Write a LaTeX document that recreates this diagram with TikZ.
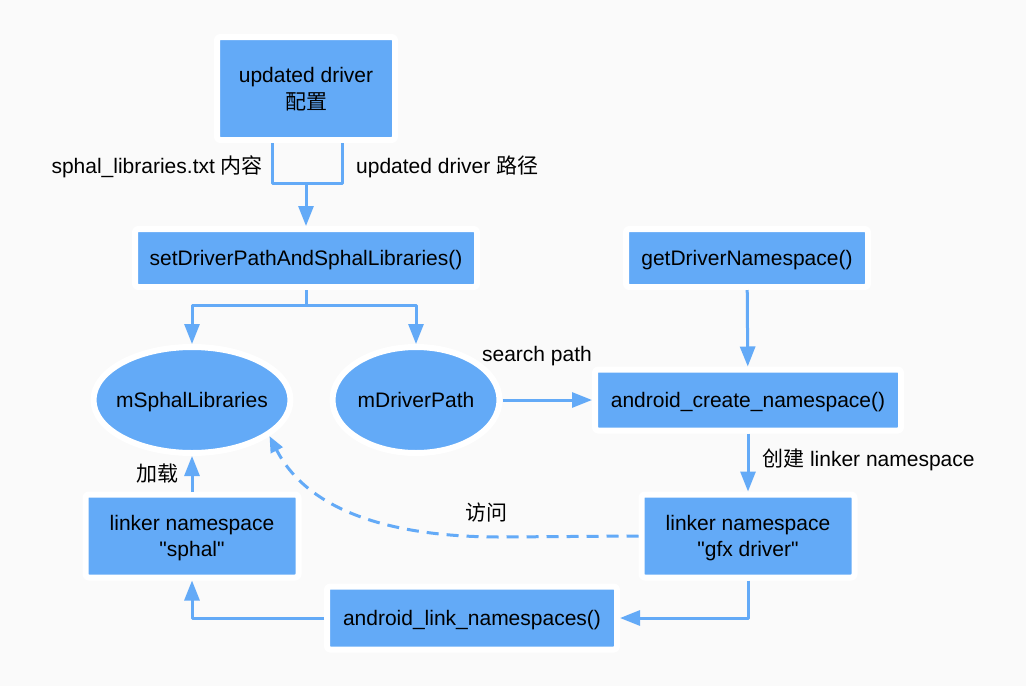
\documentclass[tikz,border=0pt]{standalone}
\usepackage{fontspec}
\setmainfont{Liberation Sans}
\newfontfamily\cjk{Noto Sans CJK SC}
\newfontfamily\qfont{Liberation Sans}
\usetikzlibrary{arrows.meta,positioning,shapes.geometric}
\definecolor{boxblue}{HTML}{63AAF7}
\definecolor{pagebg}{HTML}{FAFAFA}
\newcommand{\mainsize}{\fontsize{21}{26.5}\selectfont}
\newcommand{\zh}[1]{{\cjk #1}}
\newcommand{\qt}{{\qfont"}}
\tikzset{
    every picture/.style={line join=round},
    fnbox/.style={draw=white,fill=boxblue,line width=6pt,rounded corners=3pt,
      inner sep=2pt,text depth=0pt,align=center,font=\mainsize},
    varnode/.style={ellipse,draw=white,fill=boxblue,line width=6pt,
      inner sep=0pt,text depth=0pt,font=\mainsize},
    flowline/.style={draw=boxblue,line width=3pt},
    flowarrow/.style={flowline,-{Triangle[length=20pt,width=15pt]}},
    accessarrow/.style={flowline,dash pattern=on 12pt off 8pt,
      -{Triangle[length=16pt,width=13pt]}},
    edgelabel/.style={font=\mainsize,inner sep=0pt}
}

\begin{document}
\begin{tikzpicture}[x=1pt,y=-1pt]
    \fill[pagebg] (0,0) rectangle (1026,686);
    \useasboundingbox (0,0) rectangle (1026,686);
    % nodes
    \node[fnbox,minimum width=178pt,minimum height=103pt] (cfg) at (306,88.5)
      {updated driver\\\zh{配置}};
    \node[fnbox,minimum width=342pt,minimum height=58pt] (setp) at (306,258)
      {setDriverPathAndSphalLibraries()};
    \node[fnbox,minimum width=242pt,minimum height=58pt] (getns) at (747,258)
      {getDriverNamespace()};
    \node[varnode,minimum width=197pt,minimum height=106pt] (sphal) at (192,400)
      {\makebox[0pt]{mSphalLibraries}};
    \node[varnode,minimum width=167pt,minimum height=106pt] (drvpath) at (416,400)
      {\makebox[0pt]{mDriverPath}};
    \node[fnbox,minimum width=306pt,minimum height=61pt] (createns) at (748,400)
      {android\_create\_namespace()};
    \node[fnbox,minimum width=213pt,minimum height=83pt] (nssphal) at (192,536)
      {linker namespace\\\qt sphal\qt};
    \node[fnbox,minimum width=213pt,minimum height=83pt] (nsgfx) at (748,536)
      {linker namespace\\\qt gfx driver\qt};
    \node[fnbox,minimum width=290pt,minimum height=63pt] (linkns) at (472,618)
      {android\_link\_namespaces()};
    % connectors
    \coordinate (join) at (306,183);
    \coordinate (fork) at (306,305);
    \draw[flowline] ([xshift=-34pt]cfg.south) |- (join) -| ([xshift=36pt]cfg.south);
    \draw[flowarrow] (join) -- (setp.north);
    \draw[flowline] (setp.south) -- (fork);
    \draw[flowarrow] (fork) -| (sphal.north);
    \draw[flowarrow] (fork) -| (drvpath.north);
    \foreach \x/\y in {getns/createns,createns/nsgfx,nssphal/sphal,drvpath/createns}
        \draw[flowarrow] (\x) -- (\y);
    \draw[flowarrow] (nsgfx.south) |- (linkns.east);
    \draw[flowarrow] (linkns.west) -| (nssphal.south);
    \coordinate (bend) at (500,537);
    \draw[accessarrow] (nsgfx.west) -- (bend)
      .. controls (400,537) and (310,515) .. (sphal.-25);
    % labels
    \node[edgelabel,anchor=east] (lblsphal) at (263,167)
      {sphal\_libraries.txt \zh{内容}};
    \node[edgelabel,anchor=west] (lblpath) at (356,167)
      {updated driver \zh{路径}};
    \node[edgelabel] (lblsearch) at (537,356) {search path};
    \node[edgelabel,anchor=west] (lblcreate) at (762,460)
      {\zh{创建} linker namespace};
    \node[edgelabel] (lblload) at (157,474) {\zh{加载}};
    \node[edgelabel] (lblaccess) at (486,513) {\zh{访问}};
\end{tikzpicture}
\end{document}
